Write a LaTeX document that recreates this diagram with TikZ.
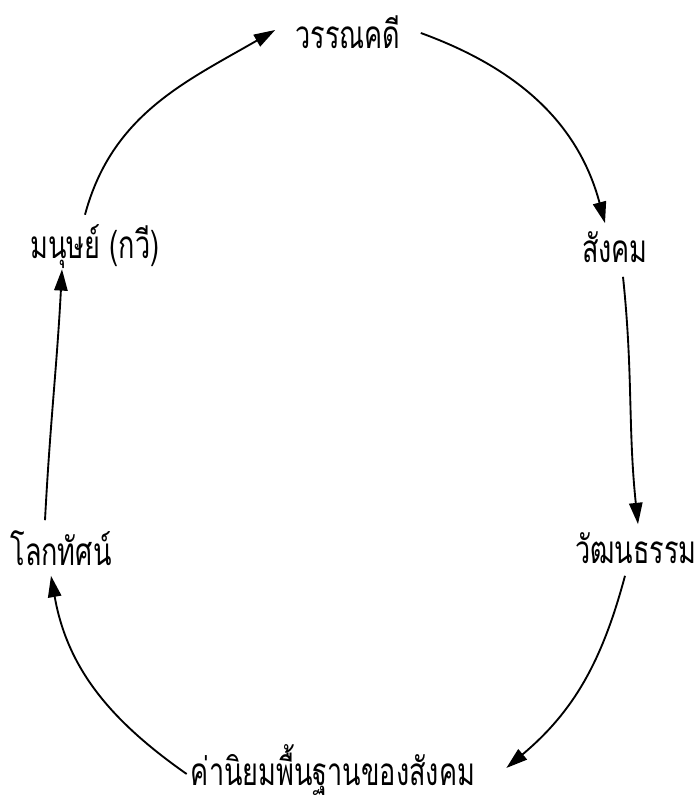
\documentclass[tikz,border=0pt]{standalone}
\usepackage{fontspec}
\usetikzlibrary{arrows.meta}
\newfontfamily\thaifont[Script=Thai,FakeStretch=0.7]{Loma}

\tikzset{
  concept/.style={font=\thaifont\fontsize{29}{31}\selectfont, inner sep=0pt},
  link/.style={line width=1.4pt, -{Triangle[length=16pt,width=10pt]}},
}

\begin{document}
\begin{tikzpicture}[x=0.75pt,y=0.75pt] % 1 unit = 1 px of the sketch
        \useasboundingbox (0,0) rectangle (698,804);

        % Concepts round the cycle
        \node[concept] (lit) at (348,772) {วรรณคดี};
        \node[concept] (soc) at (615,557) {สังคม};
        \node[concept] (cult) at (636,256) {วัฒนธรรม};
        \node[concept] (val) at (333,34) {ค่านิยมพื้นฐานของสังคม};
        \node[concept] (world) at (61,256) {โลกทัศน์};
        \node[concept] (man) at (95,557) {มนุษย์ (กวี)};

        % Arrows (clockwise)
        \draw[link] ([shift={(-10,10)}]man.north) to[out=75,in=210] ([shift={(-20,2)}]lit.west);
        \draw[link] ([shift={(20,-1)}]lit.east) to[out=-20,in=105] ([shift={(-10,8)}]soc.north);
        \draw[link] ([shift={(8,-14)}]soc.south) to[out=-84,in=96] ([shift={(2,8)}]cult.north);
        \draw[link] ([shift={(-11,-12)}]cult.south) to[out=-105,in=40] ([shift={(31,2)}]val.east);
        \draw[link] ([shift={(-4,-4)}]val.west) to[out=145,in=-80] ([shift={(-10,-10)}]world.south);
        \draw[link] ([shift={(-16,10)}]world.north) to[out=87,in=-93] ([shift={(-33,0)}]man.south);
    \end{tikzpicture}
\end{document}
